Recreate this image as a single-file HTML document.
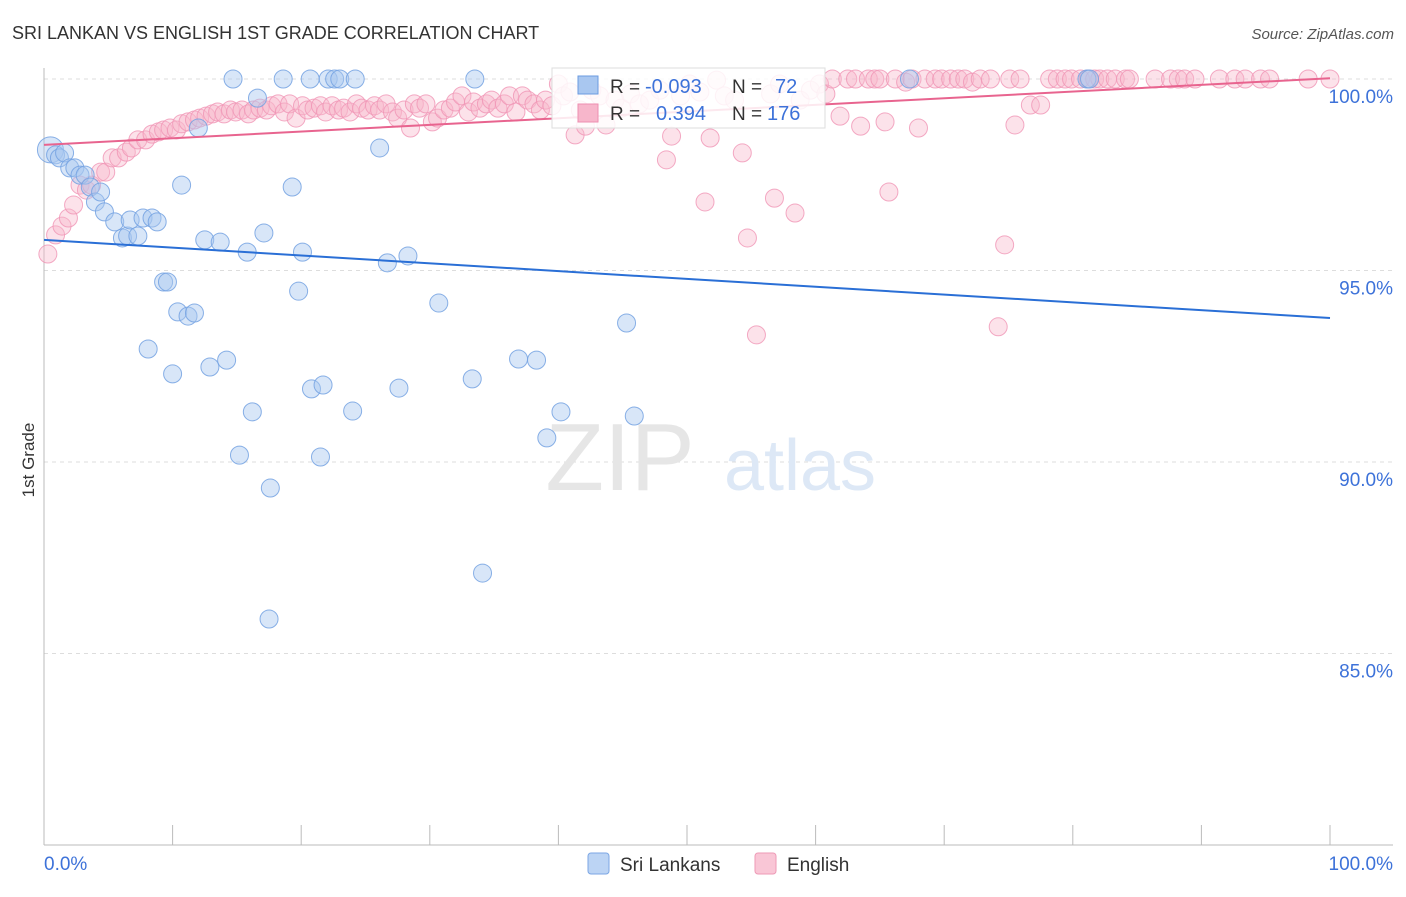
<!DOCTYPE html>
<html><head><meta charset="utf-8"><style>
body{margin:0;background:#fff;font-family:"Liberation Sans",sans-serif;}
svg text{font-family:"Liberation Sans",sans-serif;}
</style></head><body>
<svg id="chart" width="1406" height="892">
<text x="12" y="39" font-size="18" fill="#333">SRI LANKAN VS ENGLISH 1ST GRADE CORRELATION CHART</text>
<text x="1394" y="39" font-size="15" fill="#555" font-style="italic" text-anchor="end">Source: ZipAtlas.com</text>
<text x="34" y="460" font-size="17" fill="#333" transform="rotate(-90 34 460)" text-anchor="middle">1st Grade</text>
<g id="grid"></g>
<text x="620" y="490" font-size="96" fill="#e6e6e6" font-family="Liberation Serif" text-anchor="middle">ZIP</text>
<text x="800" y="490" font-size="72" fill="#dde8f6" text-anchor="middle">atlas</text>
<g id="marks"></g>
<g>
<rect x="552" y="68" width="273" height="60" fill="#fff" fill-opacity="0.85" stroke="#ddd"/>
<rect x="578" y="76" width="20" height="18" fill="#a9c7f0" stroke="#6b9be0"/>
<rect x="578" y="104" width="20" height="18" fill="#f7b6cb" stroke="#ee8fb0"/>
<text x="610" y="93" font-size="19" fill="#333">R = </text><text x="645" y="93" font-size="20" fill="#3d72d9">-0.093</text>
<text x="732" y="93" font-size="19" fill="#333">N = </text><text x="775" y="93" font-size="20" fill="#3d72d9">72</text>
<text x="610" y="120" font-size="19" fill="#333">R = </text><text x="656" y="120" font-size="20" fill="#3d72d9">0.394</text>
<text x="732" y="120" font-size="19" fill="#333">N = </text><text x="767" y="120" font-size="20" fill="#3d72d9">176</text>
</g>
<g>
<rect x="588" y="853" width="21" height="21" rx="3" fill="#bcd4f4" stroke="#7ba6e4"/>
<text x="620" y="871" font-size="19" fill="#333">Sri Lankans</text>
<rect x="755" y="853" width="21" height="21" rx="3" fill="#f9c6d6" stroke="#ee9ab6"/>
<text x="787" y="871" font-size="19" fill="#333">English</text>
</g>
</svg>
<script>
const yTicks=[100,95,90,85];
const xTickLabels=["0.0%","100.0%"];
const blueX=[0.5,0.9,1.2,1.6,2.0,2.4,2.8,3.2,3.6,4.0,4.4,4.7,5.5,6.1,6.5,6.7,7.3,7.7,8.4,8.8,9.3,9.6,8.1,10.0,10.4,11.2,11.7,10.7,12.0,12.5,12.9,13.7,14.2,14.7,15.2,15.8,16.2,16.6,17.1,17.6,17.5,18.6,19.3,19.8,20.1,20.7,20.8,21.5,21.7,22.1,22.6,23.0,24.0,24.2,26.1,26.7,27.6,28.3,30.7,33.3,33.5,34.1,36.9,38.3,39.1,40.2,45.3,45.9,67.3,81.1,81.3];
const blueY=[98.15,98.02,97.94,98.07,97.68,97.68,97.49,97.49,97.18,96.79,97.05,96.53,96.27,95.85,95.90,96.32,95.90,96.37,96.37,96.27,94.70,94.70,92.95,92.30,93.92,93.81,93.89,97.23,98.72,95.80,92.48,95.74,92.66,100,90.18,95.48,91.31,99.50,95.98,89.32,85.90,100,97.18,94.46,95.48,100,91.91,90.13,92.01,100,100,100,91.33,100,98.20,95.20,91.93,95.38,94.15,92.17,100,87.10,92.69,92.66,90.63,91.31,93.63,91.20,100,100,100];
const pinkX=[0.3,0.9,1.4,1.9,2.3,2.8,3.3,3.7,4.4,4.8,5.3,5.8,6.4,6.8,7.3,7.9,8.4,8.9,9.3,9.8,10.3,10.7,11.2,11.7,12.1,12.6,13.1,13.5,14.0,14.5,14.9,15.4,15.9,16.3,16.8,17.3,17.7,18.2,18.7,19.1,19.6,20.1,20.5,21.0,21.5,21.9,22.4,22.9,23.3,23.8,24.3,24.7,25.2,25.7,26.1,26.6,27.1,27.5,28.0,28.5,28.8,29.2,29.7,30.2,30.6,31.1,31.6,32.0,32.5,33.0,33.4,33.9,34.4,34.8,35.3,35.8,36.2,36.7,37.2,37.6,38.1,38.6,39.0,39.5,40.0,40.4,40.9,41.3,41.7,42.1,42.6,43.2,43.7,44.4,44.9,45.6,46.3,47.1,47.9,48.4,48.8,49.5,50.2,51.0,51.4,51.8,52.3,52.9,53.7,54.3,54.7,55.4,56.5,56.8,57.2,58.4,58.8,59.6,60.3,60.8,61.3,61.9,62.5,63.1,63.5,64.1,64.6,65.0,65.4,65.7,66.2,67.0,67.5,68.0,68.5,69.3,69.8,70.5,71.1,71.6,72.2,72.8,73.6,74.2,74.7,75.1,75.5,75.9,76.7,77.5,78.2,78.8,79.4,79.9,80.6,81.2,81.7,82.1,82.7,83.3,84.1,84.4,86.4,87.6,88.2,88.7,89.5,91.4,92.6,93.4,94.6,95.3,98.3,100];
const pinkY=[95.43,95.93,96.16,96.37,96.71,97.23,97.10,97.23,97.57,97.57,97.94,97.94,98.09,98.20,98.41,98.41,98.56,98.62,98.67,98.72,98.67,98.83,98.88,98.93,98.98,99.03,99.09,99.14,99.09,99.19,99.14,99.19,99.09,99.19,99.24,99.19,99.30,99.35,99.14,99.35,98.98,99.30,99.19,99.24,99.30,99.14,99.30,99.19,99.24,99.14,99.35,99.24,99.19,99.30,99.19,99.35,99.14,98.98,99.19,98.72,99.35,99.24,99.35,98.88,98.98,99.19,99.24,99.40,99.56,99.14,99.40,99.24,99.35,99.45,99.24,99.35,99.56,99.14,99.56,99.45,99.35,99.19,99.45,99.30,99.87,99.56,99.66,98.54,99.19,98.77,99.71,99.56,98.80,99.45,99.24,99.61,99.35,99.45,99.71,97.89,98.51,99.56,99.87,99.66,96.79,98.46,99.97,99.56,99.45,98.07,95.85,93.32,99.61,96.89,99.87,96.50,99.45,99.71,99.87,99.61,100,99.03,100,100,98.77,100,100,100,98.88,97.05,100,99.92,100,98.72,100,100,100,100,100,100,99.92,100,100,93.53,95.67,100,98.80,100,99.32,99.32,100,100,100,100,100,100,100,100,100,100,100,100,100,100,100,100,100,100,100,100,100,100,100,100];
const blueTrend=[95.80,93.76];
const pinkTrend=[98.28,100.02];
const NS="http://www.w3.org/2000/svg";
const sx=v=>44+v*12.86;
const sy=v=>79+(100-v)*38.3;
const grid=document.getElementById('grid'),marks=document.getElementById('marks');
function mk(tag,at,parent){const e=document.createElementNS(NS,tag);for(const k in at)e.setAttribute(k,at[k]);parent.appendChild(e);return e;}
yTicks.forEach(t=>{
 const l=mk('line',{x1:44,x2:1393,y1:sy(t),y2:sy(t),stroke:'#ddd','stroke-dasharray':'4,4'},grid);
 
 
 const tx=mk('text',{x:1393,y:sy(t)+24,'font-size':19,fill:'#3d72d9','text-anchor':'end'},grid);
 tx.textContent=t.toFixed(1)+'%';
 
 
});
mk('line',{x1:44,x2:44,y1:68,y2:845,stroke:'#bbb'},grid);
mk('line',{x1:44,x2:1393,y1:845,y2:845,stroke:'#bbb'},grid);
for(let i=0;i<=10;i++){
 const t=mk('line',{x1:sx(i*10),x2:sx(i*10),y1:825,y2:845,stroke:'#bbb'},grid);
 
 
}
[[0,'start',44],[1,'end',1393]].forEach(([i,a,x])=>{
 const tx=mk('text',{x:x,y:870,'font-size':19,fill:'#3d72d9','text-anchor':a},grid);
 tx.textContent=xTickLabels[i];
 
 
});
pinkX.forEach((v,i)=>{
 const c=mk('circle',{cx:sx(v),cy:sy(pinkY[i]),r:9,fill:'#f7b6cb','fill-opacity':0.4,stroke:'#f095b5','stroke-width':1,'stroke-opacity':0.8},marks);
 
 
});
blueX.forEach((v,i)=>{
 const c=mk('circle',{cx:sx(v),cy:sy(blueY[i]),r:i==0?13:9,fill:'#a9c7f0','fill-opacity':0.45,stroke:'#74a2e2','stroke-width':1,'stroke-opacity':0.85},marks);
 
 
});
const bt=mk('line',{x1:sx(0),x2:sx(100),y1:sy(blueTrend[0]),y2:sy(blueTrend[1]),stroke:'#2a6fd6','stroke-width':2},marks);


const pt=mk('line',{x1:sx(0),x2:sx(100),y1:sy(pinkTrend[0]),y2:sy(pinkTrend[1]),stroke:'#e8648f','stroke-width':2},marks);


</script>
</body></html>
